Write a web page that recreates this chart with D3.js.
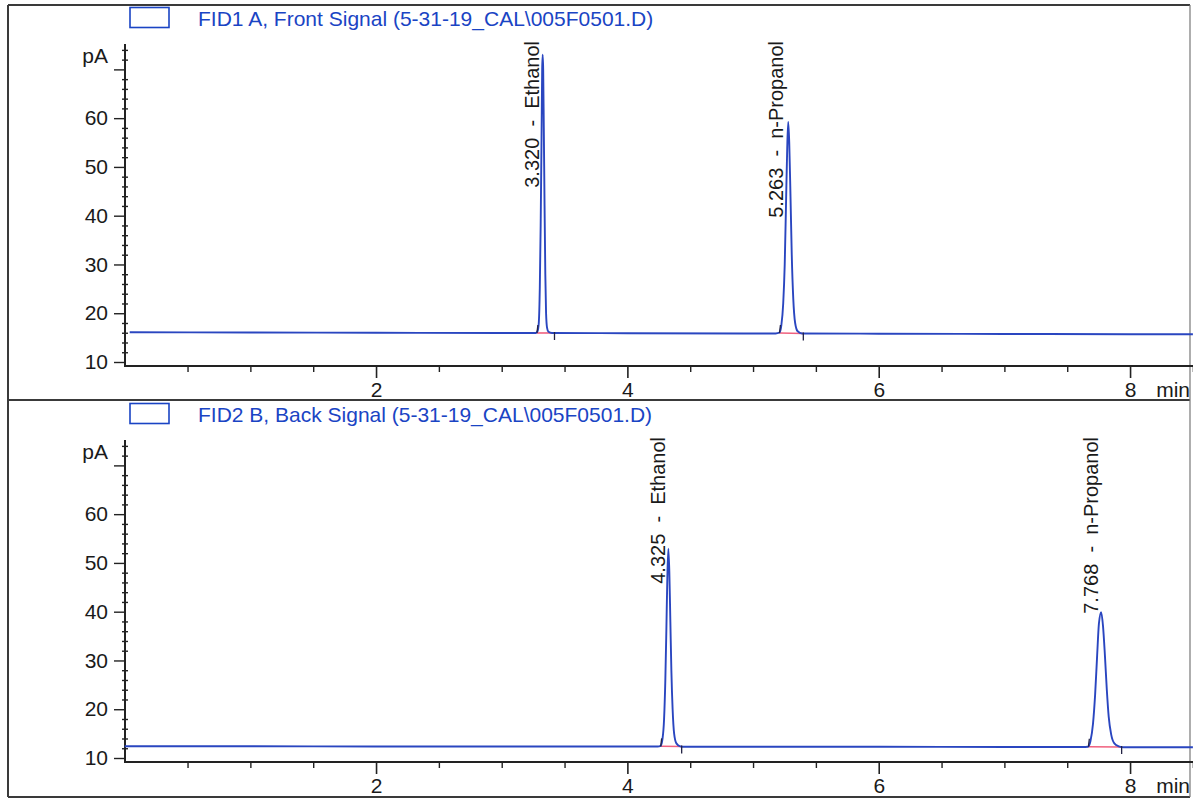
<!DOCTYPE html>
<html>
<head>
<meta charset="utf-8">
<script src="https://cdn.jsdelivr.net/npm/d3@7"></script>
<style>
html,body{margin:0;padding:0;background:#fff;}
svg{display:block;}
text{font-family:"Liberation Sans", Arial, sans-serif;}
</style>
</head>
<body>
<svg id="chart" width="1193" height="801"></svg>
<script>
// ---------------- data ----------------
const panelTitles = [
  "FID1 A, Front Signal (5-31-19_CAL\\005F0501.D)",
  "FID2 B, Back Signal (5-31-19_CAL\\005F0501.D)"
];
const xMajorTicks = [2, 4, 6, 8];
const yMajorTicks = [10, 20, 30, 40, 50, 60, 70];
const yLabelTicks = [10, 20, 30, 40, 50, 60];
const xUnit = "min";
const yUnit = "pA";

// Front signal trace (min, pA)
const frontTime   = [0.04, 1.0, 2.0, 3.0, 3.27, 3.285, 3.295, 3.303, 3.310, 3.317, 3.322, 3.326, 3.330, 3.335, 3.341, 3.347, 3.353, 3.361, 3.372, 3.40, 4.0, 5.0, 5.18, 5.21, 5.225, 5.240, 5.252, 5.262, 5.272, 5.280, 5.288, 5.298, 5.308, 5.320, 5.335, 5.355, 5.39, 6.0, 7.0, 8.0, 8.5];
const frontSignal = [16.1, 16.05, 16.0, 15.95, 15.95, 16.3, 18.0, 25.0, 38.0, 56.0, 70.0, 73.0, 70.0, 58.0, 42.0, 28.0, 20.0, 17.0, 16.2, 15.95, 15.9, 15.85, 15.85, 16.0, 17.5, 22.0, 30.0, 42.0, 54.0, 59.2, 55.0, 44.0, 32.0, 23.0, 18.0, 16.3, 15.85, 15.8, 15.75, 15.7, 15.7];

// Back signal trace (min, pA)
const backTime   = [0.0, 1.0, 2.0, 3.0, 4.0, 4.24, 4.265, 4.280, 4.292, 4.302, 4.310, 4.318, 4.326, 4.334, 4.342, 4.350, 4.360, 4.372, 4.390, 4.42, 4.45, 5.0, 6.0, 7.0, 7.62, 7.665, 7.685, 7.705, 7.722, 7.738, 7.752, 7.770, 7.785, 7.800, 7.815, 7.830, 7.850, 7.875, 7.91, 7.95, 8.5];
const backSignal = [12.4, 12.4, 12.35, 12.35, 12.35, 12.35, 12.5, 14.0, 18.0, 26.0, 36.0, 47.0, 52.9, 48.0, 38.0, 28.0, 20.0, 15.0, 13.0, 12.4, 12.3, 12.3, 12.3, 12.25, 12.25, 12.3, 13.5, 17.0, 23.0, 31.0, 37.5, 39.9, 37.0, 31.0, 24.0, 18.5, 14.8, 13.0, 12.4, 12.2, 12.2];

// Peak annotations
const frontPeakRT    = [3.320, 5.263];
const frontPeakNames = ["Ethanol", "n-Propanol"];
const frontPeakStart = [3.28, 5.21];
const frontPeakEnd   = [3.42, 5.40];
const frontBaseStart = [15.95, 15.95];
const frontBaseEnd   = [15.95, 15.85];

const backPeakRT    = [4.325, 7.768];
const backPeakNames = ["Ethanol", "n-Propanol"];
const backPeakStart = [4.265, 7.668];
const backPeakEnd   = [4.432, 7.933];
const backBaseStart = [12.4, 12.3];
const backBaseEnd   = [12.35, 12.25];

const panels = [
  {title: panelTitles[0], t: frontTime, v: frontSignal, rt: frontPeakRT, names: frontPeakNames,
   ps: frontPeakStart, pe: frontPeakEnd, bs: frontBaseStart, be: frontBaseEnd},
  {title: panelTitles[1], t: backTime, v: backSignal, rt: backPeakRT, names: backPeakNames,
   ps: backPeakStart, pe: backPeakEnd, bs: backBaseStart, be: backBaseEnd}
];

// ---------------- layout ----------------
const svg = d3.select("#chart");
const W = 1193;
const frameColor = "#3a3a3a";
const axisColor = "#222";
const traceColor = "#2a46c0";
const legendColor = "#1a44c4";
const baseColor = "#f0607e";

const x = d3.scaleLinear().domain([0, 8.5]).range([124.7, 124.7 + 8.5 * 125.67]);

// outer frame
svg.append("line").attr("x1", 8).attr("x2", 1190).attr("y1", 5).attr("y2", 5)
  .attr("stroke", frameColor).attr("stroke-width", 2);
svg.append("line").attr("x1", 8).attr("x2", 1190).attr("y1", 400).attr("y2", 400)
  .attr("stroke", frameColor).attr("stroke-width", 2);
svg.append("line").attr("x1", 8).attr("x2", 1190).attr("y1", 797).attr("y2", 797)
  .attr("stroke", frameColor).attr("stroke-width", 2);
svg.append("line").attr("x1", 8).attr("x2", 8).attr("y1", 5).attr("y2", 797)
  .attr("stroke", frameColor).attr("stroke-width", 2);
svg.append("line").attr("x1", 1190).attr("x2", 1190).attr("y1", 5).attr("y2", 797)
  .attr("stroke", "#777").attr("stroke-width", 1.2);

panels.forEach((p, i) => {
  const oy = i * 396;
  const g = svg.append("g").attr("transform", `translate(0,${oy})`);
  const y = d3.scaleLinear().domain([10, 75]).range([362, 45]);
  const xAxisY = 366;

  // legend
  g.append("rect").attr("x", 130).attr("y", 7.5).attr("width", 39).attr("height", 20)
    .attr("fill", "none").attr("stroke", legendColor).attr("stroke-width", 1.6);
  g.append("text").attr("x", 198).attr("y", 26).attr("fill", legendColor)
    .attr("font-size", 21).text(p.title);

  // y axis: minor ticks (crossing the axis)
  const yMinor = d3.range(12, 75, 2).filter(d => yMajorTicks.indexOf(d) < 0);
  const yMin = g.append("g").attr("transform", "translate(125,0)")
    .call(d3.axisLeft(y).tickValues(yMinor).tickSize(3).tickFormat(""));
  yMin.select(".domain").remove();
  yMin.selectAll(".tick line").attr("x1", 3).attr("x2", -3).attr("stroke", axisColor).attr("stroke-width", 1.4);

  const yMaj = g.append("g").attr("transform", "translate(125,0)")
    .call(d3.axisLeft(y).tickValues(yMajorTicks).tickSize(11).tickPadding(6)
      .tickFormat(d => yLabelTicks.indexOf(d) >= 0 ? d : ""));
  yMaj.select(".domain").remove();
  yMaj.selectAll(".tick line").attr("stroke", axisColor).attr("stroke-width", 1.4);
  yMaj.selectAll(".tick text").attr("font-size", 21).attr("fill", "#1a1a1a")
    .attr("font-family", "Liberation Sans, Arial, sans-serif");

  g.append("line").attr("x1", 125).attr("x2", 125).attr("y1", 44).attr("y2", xAxisY)
    .attr("stroke", axisColor).attr("stroke-width", 2);
  g.append("text").attr("x", 108).attr("y", 63).attr("text-anchor", "end")
    .attr("font-size", 21).attr("fill", "#1a1a1a").text(yUnit);

  // x axis
  const xMinor = d3.range(0.5, 8.51, 0.5).filter(d => xMajorTicks.indexOf(d) < 0);
  const xMin = g.append("g").attr("transform", `translate(0,${xAxisY})`)
    .call(d3.axisBottom(x).tickValues(xMinor).tickSize(6).tickFormat(""));
  xMin.select(".domain").remove();
  xMin.selectAll(".tick line").attr("stroke", axisColor).attr("stroke-width", 1.4);

  const xMaj = g.append("g").attr("transform", `translate(0,${xAxisY})`)
    .call(d3.axisBottom(x).tickValues(xMajorTicks).tickSize(12).tickPadding(4).tickFormat(d3.format("d")));
  xMaj.select(".domain").remove();
  xMaj.selectAll(".tick line").attr("stroke", axisColor).attr("stroke-width", 1.6);
  xMaj.selectAll(".tick text").attr("font-size", 21).attr("fill", "#1a1a1a")
    .attr("font-family", "Liberation Sans, Arial, sans-serif");

  g.append("line").attr("x1", 124).attr("x2", W).attr("y1", xAxisY).attr("y2", xAxisY)
    .attr("stroke", axisColor).attr("stroke-width", 2);
  g.append("text").attr("x", 1190).attr("y", 397).attr("font-size", 21)
    .attr("text-anchor", "end").attr("fill", "#1a1a1a").text(xUnit);

  // integration baselines
  p.rt.forEach((rt, k) => {
    g.append("line")
      .attr("x1", x(p.ps[k])).attr("x2", x(p.pe[k]))
      .attr("y1", y(p.bs[k])).attr("y2", y(p.be[k]))
      .attr("stroke", baseColor).attr("stroke-width", 1.6);
  });

  // trace
  const pts = p.t.map((t, k) => [t, p.v[k]]);
  const line = d3.line().x(d => x(d[0])).y(d => y(d[1])).curve(d3.curveMonotoneX);
  g.append("path").datum(pts).attr("d", line)
    .attr("fill", "none").attr("stroke", traceColor).attr("stroke-width", 1.9);

  // start / end markers
  p.rt.forEach((rt, k) => {
    g.append("line").attr("x1", x(p.ps[k])).attr("x2", x(p.ps[k]) + 1)
      .attr("y1", y(p.bs[k])).attr("y2", y(p.bs[k]) - 8)
      .attr("stroke", "#222244").attr("stroke-width", 1.3);
    g.append("line").attr("x1", x(p.pe[k])).attr("x2", x(p.pe[k]))
      .attr("y1", y(p.be[k]) - 1).attr("y2", y(p.be[k]) + 7)
      .attr("stroke", "#222244").attr("stroke-width", 1.3);
  });

  // peak labels
  p.rt.forEach((rt, k) => {
    const lx = x(rt) - 3, ly = 41;
    g.append("text")
      .attr("transform", `translate(${lx},${ly}) rotate(-90)`)
      .attr("text-anchor", "end")
      .attr("font-size", 20)
      .attr("fill", "#1a1a1a")
      .style("white-space", "pre")
      .attr("xml:space", "preserve")
      .text(d3.format(".3f")(rt) + "  -  " + p.names[k]);
  });
});
</script>
</body>
</html>
